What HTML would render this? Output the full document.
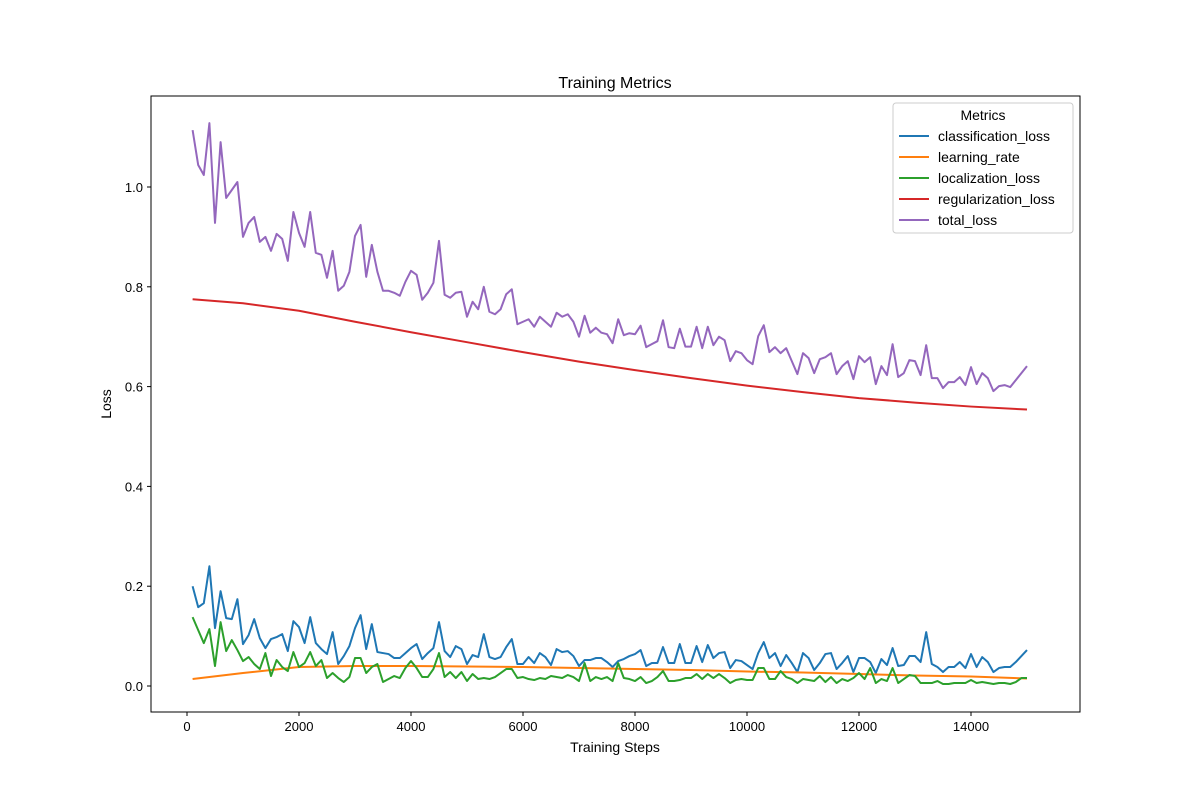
<!DOCTYPE html>
<html><head><meta charset="utf-8"><style>
body{margin:0;background:#fff}
svg text{font-family:"Liberation Sans","DejaVu Sans",sans-serif;fill:#000}
</style></head><body>
<svg id="chart" width="1200" height="800" xmlns="http://www.w3.org/2000/svg">
<rect width="1200" height="800" fill="#fff"/>
<text x="615" y="88" font-size="16" text-anchor="middle">Training Metrics</text>
<g id="plot"></g>
<rect x="151" y="96" width="929" height="616" fill="none" stroke="#000" stroke-width="1"/>
<g id="ticks"></g>
<text x="615" y="752" font-size="14" text-anchor="middle">Training Steps</text>
<text x="111" y="404" font-size="14" text-anchor="middle" transform="rotate(-90 111 404)">Loss</text>
<g>
<rect x="893" y="103" width="180" height="130" rx="3" fill="#fff" stroke="#ccc"/>
<text x="983" y="120" font-size="14" text-anchor="middle">Metrics</text>
<g id="legend-items"></g>
</g>
</svg>
<script>
const totalLoss=[1.114,1.044,1.024,1.128,0.928,1.09,0.978,0.994,1.01,0.90,0.928,0.94,0.89,0.90,0.872,0.906,0.896,0.852,0.95,0.908,0.88,0.95,0.868,0.864,0.818,0.872,0.792,0.802,0.83,0.902,0.924,0.82,0.884,0.83,0.792,0.792,0.788,0.782,0.81,0.832,0.824,0.774,0.788,0.808,0.892,0.784,0.778,0.788,0.79,
0.74,0.77,0.755,0.80,0.75,0.745,0.755,0.785,0.795,0.725,0.73,0.735,0.72,0.74,0.73,0.72,0.748,0.74,0.745,0.73,0.70,0.742,0.708,
0.718,0.708,0.705,0.687,0.735,0.703,0.707,0.705,0.722,0.679,0.685,0.691,0.733,0.679,0.677,0.716,0.680,0.680,0.720,0.677,0.72,0.683,0.700,0.693,0.651,0.671,0.667,0.653,0.645,0.701,0.723,0.669,0.679,0.667,0.677,0.651,0.625,0.667,0.657,0.627,0.655,0.659,0.667,0.625,0.641,0.651,0.615,0.661,0.649,0.659,0.605,0.641,0.623,0.685,0.619,0.627,0.653,0.651,0.623,0.683,0.617,0.617,0.597,0.609,0.609,0.619,0.603,0.639,0.605,0.627,0.617,0.591,0.601,0.603,0.599,0.613,0.627,0.641];
const classLoss=[0.200,0.158,0.166,0.240,0.116,0.19,0.136,0.134,0.174,0.084,0.102,0.134,0.096,0.076,0.094,0.098,0.104,0.07,0.13,0.118,0.086,0.138,0.086,0.074,0.064,0.108,0.044,0.06,0.08,0.116,0.142,0.074,0.124,0.068,0.066,0.064,0.056,0.056,0.066,0.076,0.084,0.054,0.066,0.076,0.128,0.07,0.058,0.08,0.074,0.044,0.062,0.058,0.104,0.058,0.054,0.058,0.078,0.094,0.044,0.044,0.058,0.046,0.066,0.058,0.042,0.074,0.068,0.07,0.06,0.04,0.052,0.052,0.056,0.056,0.048,0.038,
0.050,0.054,0.06,0.064,0.072,0.04,0.046,0.046,0.078,0.046,0.046,0.084,0.046,0.046,0.08,0.048,0.082,0.056,0.066,0.068,0.036,0.052,0.05,0.042,0.034,0.066,0.088,0.056,0.066,0.04,0.062,0.046,0.028,0.066,0.056,0.032,0.046,0.064,0.066,0.034,0.046,0.06,0.028,0.056,0.056,0.048,0.026,0.054,0.042,0.076,0.04,0.042,0.06,0.06,0.048,0.108,0.044,0.038,0.028,0.038,0.038,0.048,0.036,0.064,0.038,0.058,0.048,0.028,0.036,0.038,0.038,0.048,0.06,0.072];
const locLoss=[0.138,0.112,0.086,0.114,0.04,0.128,0.07,0.092,0.072,0.05,0.058,0.044,0.034,0.066,0.02,0.052,0.038,0.03,0.068,0.038,0.046,0.068,0.04,0.052,0.016,0.026,0.016,0.008,0.018,0.056,0.056,0.026,0.038,0.044,0.008,0.014,0.02,0.016,0.036,0.05,0.036,0.018,0.018,0.034,0.066,0.018,0.028,0.016,0.028,0.01,0.024,0.014,0.016,0.014,0.018,0.026,0.034,0.034,0.016,0.018,0.014,0.012,0.016,0.014,0.02,0.018,0.016,0.022,0.018,0.01,0.046,0.01,0.018,0.014,0.018,0.01,
0.046,0.016,0.014,0.01,0.018,0.006,0.01,0.018,0.03,0.01,0.01,0.012,0.016,0.016,0.024,0.014,0.024,0.016,0.024,0.016,0.006,0.012,0.014,0.012,0.012,0.036,0.036,0.014,0.014,0.03,0.018,0.014,0.006,0.014,0.012,0.01,0.02,0.008,0.018,0.006,0.014,0.01,0.016,0.026,0.014,0.036,0.006,0.014,0.01,0.036,0.006,0.014,0.022,0.02,0.006,0.006,0.006,0.01,0.004,0.004,0.006,0.006,0.006,0.012,0.006,0.008,0.006,0.004,0.006,0.006,0.004,0.008,0.016,0.016];
const smoothSteps=[100,1000,2000,3000,4000,5000,6000,7000,8000,9000,10000,11000,12000,13000,14000,15000];
const regLoss=[0.775,0.767,0.752,0.730,0.709,0.689,0.669,0.650,0.633,0.617,0.602,0.589,0.577,0.568,0.560,0.554];
const lrValues=[0.014,0.026,0.038,0.040,0.040,0.039,0.038,0.036,0.034,0.032,0.029,0.027,0.024,0.021,0.019,0.015];
const xTicks=[0,2000,4000,6000,8000,10000,12000,14000];
const yTicks=[0.0,0.2,0.4,0.6,0.8,1.0];
const yTickLabels=["0.0","0.2","0.4","0.6","0.8","1.0"];
const seriesNames=["classification_loss","learning_rate","localization_loss","regularization_loss","total_loss"];

const X=s=>187+s*0.056;
const Y=v=>686-v*499;
const NS="http://www.w3.org/2000/svg";
const plot=document.getElementById('plot');
const ticks=document.getElementById('ticks');
function stepsFor(arr){return arr.map((_,i)=>100+i*14900/(arr.length-1));}
function line(steps,vals,color,name){
  const p=document.createElementNS(NS,'polyline');
  p.setAttribute('points',vals.map((v,i)=>X(steps[i]).toFixed(2)+','+Y(v).toFixed(2)).join(' '));
  p.setAttribute('fill','none');p.setAttribute('stroke',color);p.setAttribute('stroke-width','2');
  p.setAttribute('stroke-linejoin','round');
  
  
  plot.appendChild(p);
}
line(stepsFor(classLoss),classLoss,'#1f77b4','classification-loss-line');
line(smoothSteps,lrValues,'#ff7f0e','learning-rate-line');
line(stepsFor(locLoss),locLoss,'#2ca02c','localization-loss-line');
line(smoothSteps,regLoss,'#d62728','regularization-loss-line');
line(stepsFor(totalLoss),totalLoss,'#9467bd','total-loss-line');

xTicks.forEach(t=>{
  const l=document.createElementNS(NS,'line');
  l.setAttribute('x1',X(t));l.setAttribute('x2',X(t));l.setAttribute('y1',712);l.setAttribute('y2',716);l.setAttribute('stroke','#000');
  
  
  ticks.appendChild(l);
  const tx=document.createElementNS(NS,'text');
  tx.setAttribute('x',X(t));tx.setAttribute('y',731);tx.setAttribute('font-size','13');tx.setAttribute('text-anchor','middle');
  tx.textContent=String(t);
  
  
  ticks.appendChild(tx);
});
yTicks.forEach((t,i)=>{
  const l=document.createElementNS(NS,'line');
  l.setAttribute('x1',147);l.setAttribute('x2',151);l.setAttribute('y1',Y(t));l.setAttribute('y2',Y(t));l.setAttribute('stroke','#000');
  
  
  ticks.appendChild(l);
  const tx=document.createElementNS(NS,'text');
  tx.setAttribute('x',143);tx.setAttribute('y',Y(t)+5);tx.setAttribute('font-size','13');tx.setAttribute('text-anchor','end');
  tx.textContent=yTickLabels[i];
  
  
  ticks.appendChild(tx);
});
const colors=['#1f77b4','#ff7f0e','#2ca02c','#d62728','#9467bd'];
const li=document.getElementById('legend-items');
seriesNames.forEach((n,i)=>{
  const y=136+i*21;
  const g=document.createElementNS(NS,'g');
  
  
  const l=document.createElementNS(NS,'line');
  l.setAttribute('x1',899);l.setAttribute('x2',929);l.setAttribute('y1',y);l.setAttribute('y2',y);
  l.setAttribute('stroke',colors[i]);l.setAttribute('stroke-width','2');
  g.appendChild(l);
  const t=document.createElementNS(NS,'text');
  t.setAttribute('x',938);t.setAttribute('y',y+5);t.setAttribute('font-size','14');t.textContent=n;
  g.appendChild(t);
  li.appendChild(g);
});
</script>
</body></html>
